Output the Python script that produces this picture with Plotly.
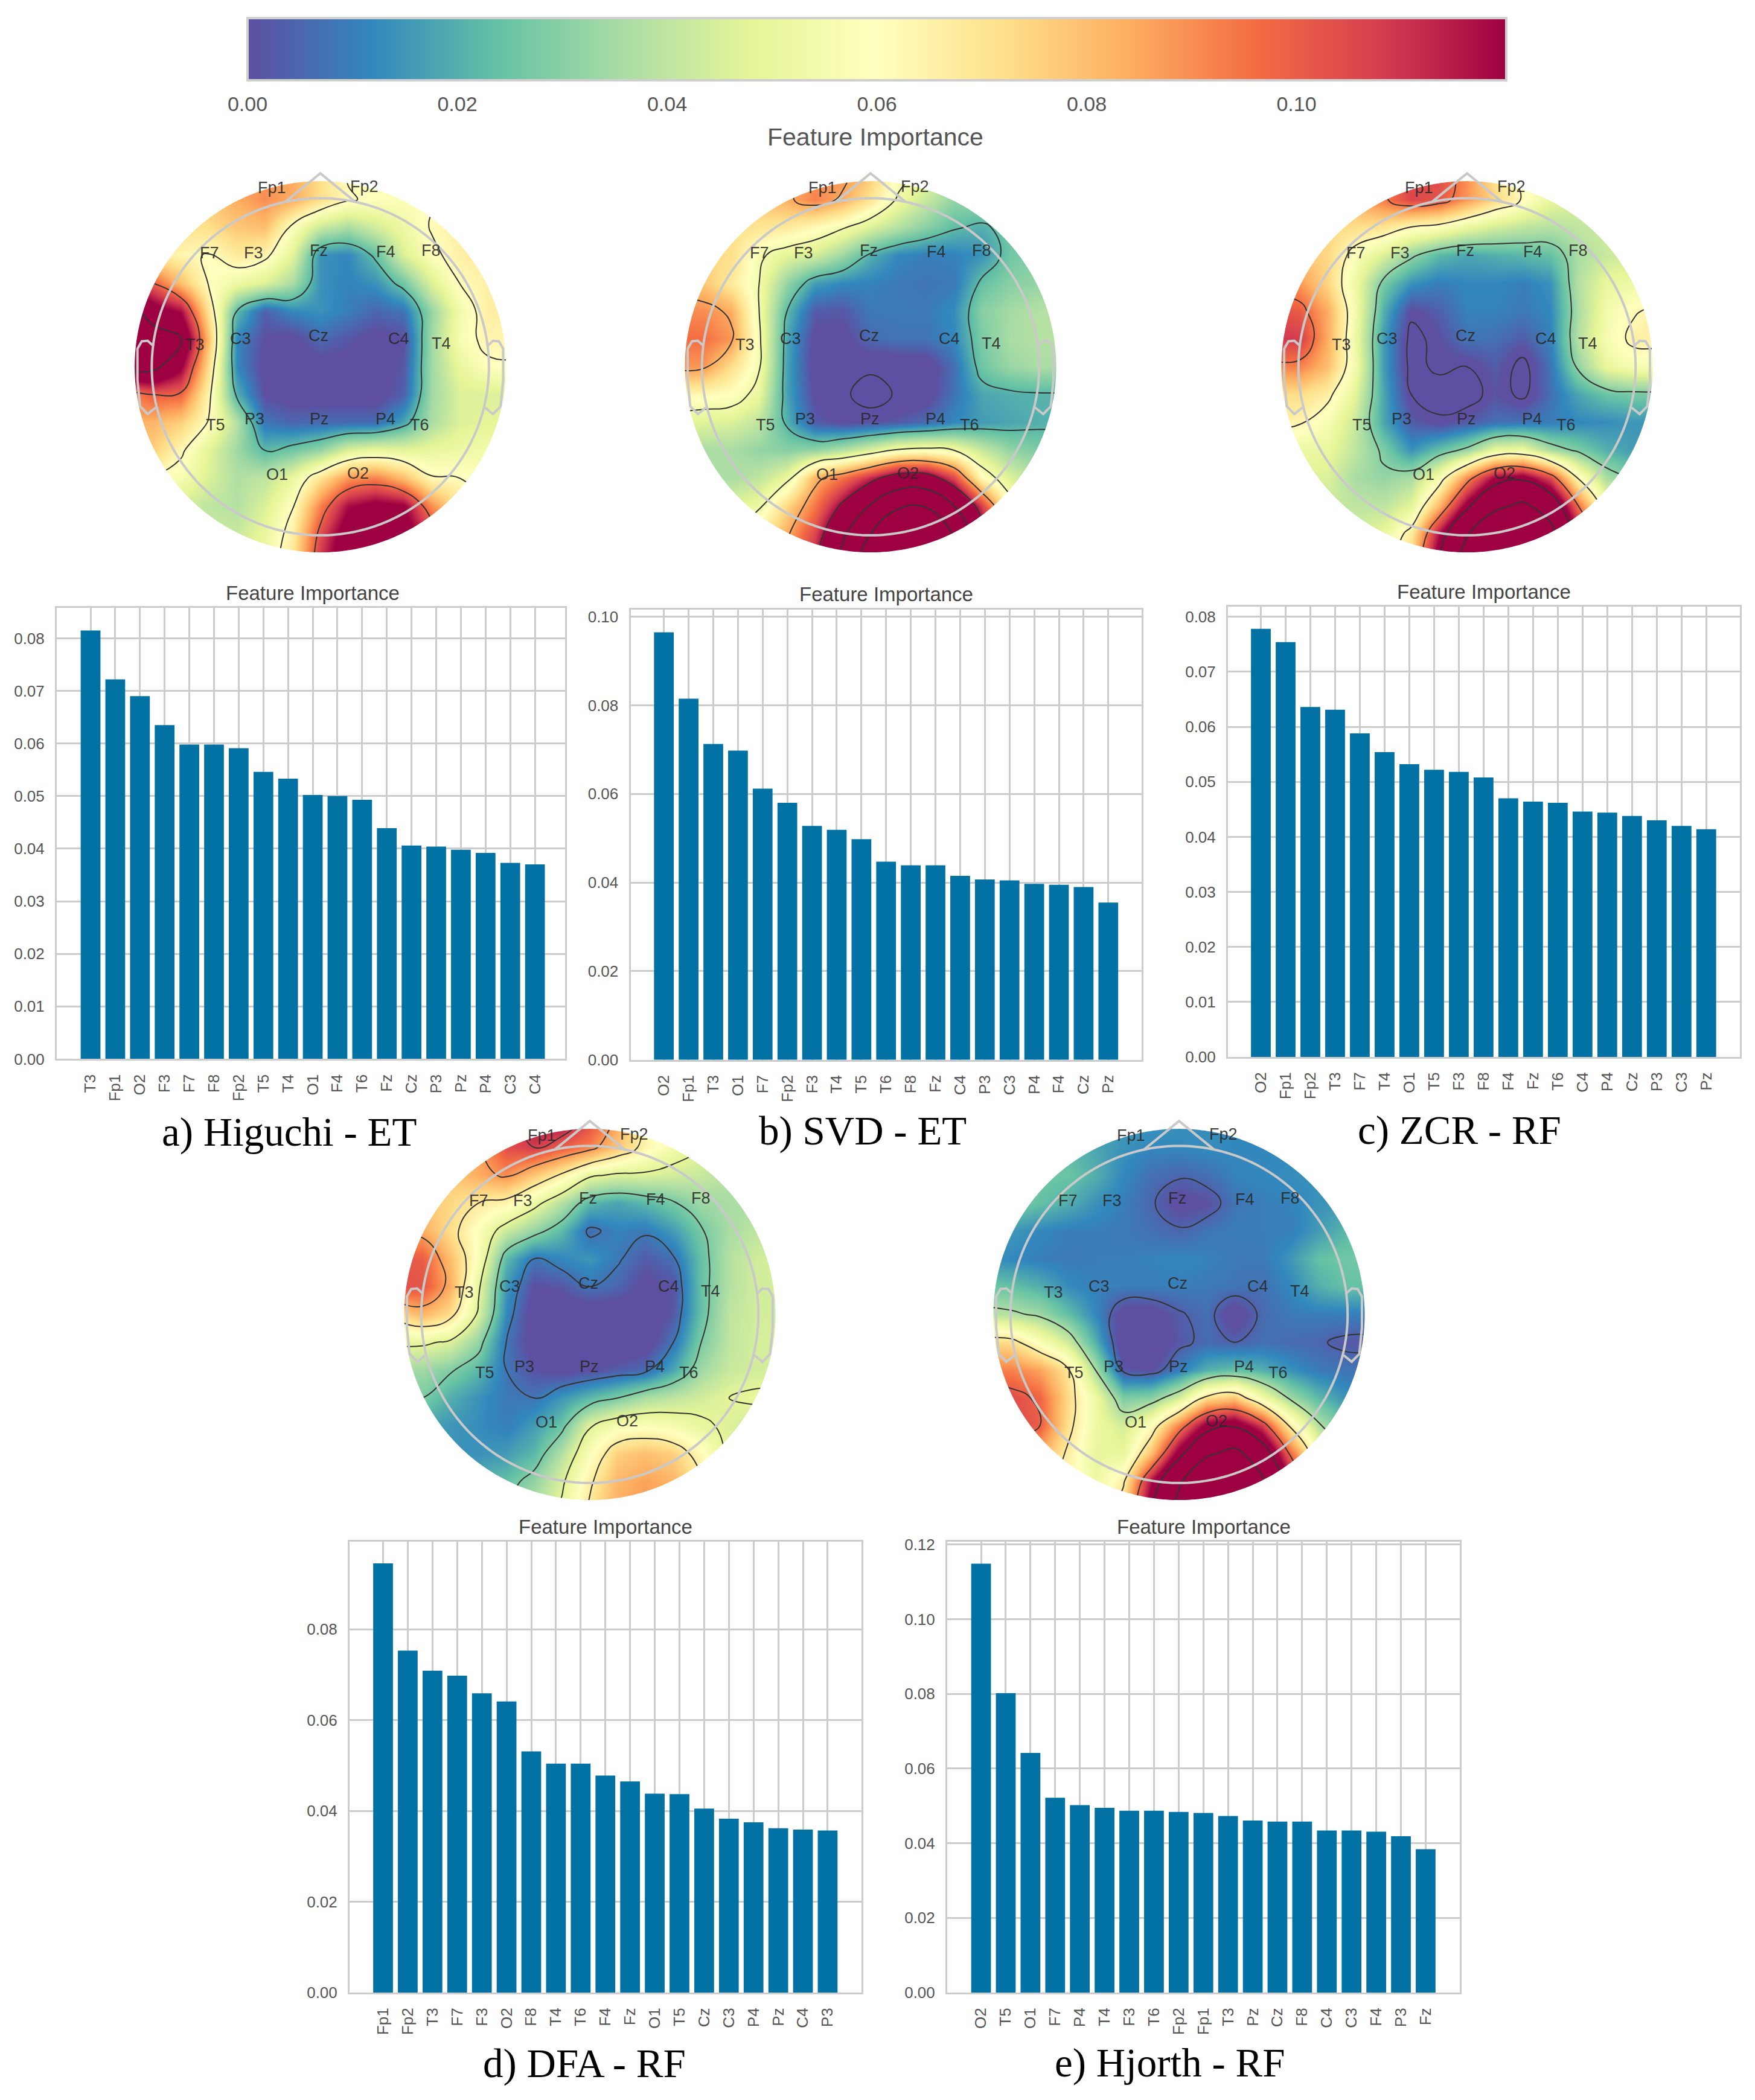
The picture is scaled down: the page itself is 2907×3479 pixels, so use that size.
import numpy as np
import plotly.graph_objects as go

W, H = 2907, 3479

# ---------- bar data ----------
a_labels = ["T3","Fp1","O2","F3","F7","F8","Fp2","T5","T4","O1","F4","T6","Fz","Cz","P3","Pz","P4","C3","C4"]
a_values = [.0815,.0722,.0690,.0635,.0598,.0598,.0591,.0546,.0533,.0502,.0500,.0493,.0439,.0406,.0404,.0398,.0392,.0373,.0370]
b_labels = ["O2","Fp1","T3","O1","F7","Fp2","F3","T4","T5","T6","F8","Fz","C4","P3","C3","P4","F4","Cz","Pz"]
b_values = [.0965,.0815,.0713,.0698,.0612,.0580,.0528,.0519,.0498,.0447,.0439,.0439,.0415,.0407,.0405,.0397,.0395,.0390,.0355]
c_labels = ["O2","Fp1","Fp2","T3","F7","T4","O1","T5","F3","F8","F4","Fz","T6","C4","P4","Cz","P3","C3","Pz"]
c_values = [.0778,.0754,.0636,.0631,.0588,.0554,.0532,.0522,.0518,.0508,.0470,.0464,.0462,.0446,.0444,.0438,.0430,.0420,.0414]
d_labels = ["Fp1","Fp2","T3","F7","F3","O2","F8","T4","T6","F4","Fz","O1","T5","Cz","C3","P4","Pz","C4","P3"]
d_values = [.0945,.0753,.0709,.0698,.0659,.0641,.0531,.0504,.0504,.0478,.0465,.0438,.0437,.0405,.0383,.0375,.0362,.0359,.0357]
e_labels = ["O2","T5","O1","F7","P4","T4","F3","T6","Fp2","Fp1","T3","Pz","Cz","F8","C4","C3","F4","P3","Fz"]
e_values = [.1149,.0802,.0642,.0522,.0502,.0495,.0487,.0487,.0484,.0481,.0473,.0461,.0458,.0458,.0434,.0434,.0431,.0419,.0384]

# ---------- topographic fields (x 0.001) ----------
grid_x = [-1.05,-.9,-.75,-.6,-.45,-.3,-.15,0,.15,.3,.45,.6,.75,.9,1.05]
grid_y = [1.05,.9,.75,.6,.45,.3,.15,0,-.15,-.3,-.45,-.6,-.75,-.9,-1.05]

field_a = [
[70,70,72,78,85,88,85,72,60,58,58,58,60,62,62],
[70,72,74,78,84,90,84,72,62,59,58,60,62,64,64],
[68,70,70,72,78,80,58,42,36,44,52,62,66,66,66],
[70,68,64,60,68,64,48,14,12,24,46,58,66,68,68],
[110,100,80,60,52,46,36,14,11,14,26,46,61,66,66],
[150,128,118,70,22,4,12,14,10,5,8,32,54,66,68],
[150,150,140,80,12,0,-2,6,2,-2,0,34,56,64,64],
[150,145,122,72,12,-2,-3,-3,-3,-3,2,34,50,59,60],
[90,100,98,64,20,0,-3,-3,-3,-3,4,34,46,46,46],
[84,82,76,60,38,8,5,6,6,6,18,36,46,48,48],
[80,76,63,48,34,22,26,32,46,50,48,50,52,54,54],
[62,60,56,46,37,40,50,70,88,92,80,62,61,56,56],
[50,48,44,40,38,46,60,92,118,125,122,90,70,60,60],
[48,46,44,42,42,50,66,104,130,135,128,110,80,60,60],
[46,46,44,44,44,52,70,110,135,140,132,110,80,60,60],
]
field_b = [
[70,72,74,78,82,88,90,78,60,50,42,38,35,34,34],
[72,74,74,78,84,92,84,70,52,42,32,32,30,30,30],
[72,72,72,70,68,62,55,46,38,30,23,20,26,28,28],
[74,74,72,56,48,44,34,20,12,10,11,14,26,30,30],
[80,78,68,54,32,16,12,11,9,8,9,24,30,32,32],
[92,90,84,54,22,3,2,9,9,9,13,30,35,38,38],
[96,96,88,56,18,-2,-2,6,8,8,12,28,36,38,38],
[88,88,72,55,17,-3,-5,-6,-5,-4,7,26,33,36,36],
[64,62,60,50,17,-1,-6,-20,-7,-3,8,18,20,21,21],
[48,47,46,40,20,3,-1,1,3,6,12,16,18,20,20],
[38,36,36,32,30,32,38,46,56,58,54,42,32,28,28],
[36,36,36,40,50,82,95,112,130,130,105,62,46,38,38],
[46,46,46,52,74,94,122,152,178,180,150,108,60,46,46],
[50,50,52,66,84,106,145,182,215,215,180,130,90,56,56],
[52,54,56,70,90,115,160,200,240,240,200,140,95,60,60],
]
field_c = [
[72,74,78,84,92,105,105,90,70,56,52,48,46,44,44],
[72,74,78,84,94,106,102,88,74,62,50,46,44,42,42],
[72,74,74,72,70,62,58,50,44,40,38,40,44,44,44],
[80,78,74,58,46,32,22,18,20,22,24,36,42,44,44],
[90,88,74,52,27,14,10,12,12,10,14,38,50,52,52],
[105,100,84,54,20,-1,4,11,11,9,12,36,54,62,66],
[110,108,84,52,16,-6,0,8,7,3,11,38,56,66,66],
[92,92,80,54,16,-6,-1,-3,3,-6,8,32,50,56,56],
[72,72,66,48,18,-3,-8,-8,1,-5,7,18,25,27,27],
[66,64,56,42,18,3,-1,3,7,8,10,12,13,15,15],
[54,52,50,40,28,14,24,33,50,52,36,28,20,16,16],
[46,46,46,36,32,36,56,90,120,126,105,62,36,28,28],
[44,44,42,40,40,48,82,125,155,168,148,96,55,38,38],
[44,44,44,44,50,68,118,160,192,205,172,120,70,44,44],
[44,46,46,46,54,76,130,175,210,220,190,130,80,50,50],
]
field_d = [
[70,72,76,84,100,118,120,105,85,64,55,50,46,44,44],
[72,74,78,86,104,108,100,92,78,64,54,48,44,42,42],
[74,76,78,84,90,78,66,50,46,46,44,42,38,36,36],
[78,78,74,68,64,52,38,22,18,22,27,34,36,36,36],
[86,84,72,58,42,32,22,6,11,9,16,27,36,40,40],
[102,100,80,58,22,8,12,15,9,3,7,24,38,44,44],
[104,102,84,50,15,0,2,8,5,-2,1,24,38,44,44],
[72,82,72,46,12,-4,-5,-5,-5,-4,2,24,40,44,44],
[50,50,46,32,8,-3,-5,-5,-5,-4,8,28,40,45,45],
[36,34,29,22,8,1,-2,0,3,6,18,34,42,44,44],
[30,28,20,14,9,8,15,22,28,36,40,44,48,50,50],
[20,18,15,13,10,16,25,47,56,58,55,50,46,42,42],
[16,16,14,14,16,22,38,58,76,80,76,62,46,40,40],
[18,18,18,20,24,32,46,66,82,86,82,70,50,40,40],
[20,20,20,24,28,38,50,70,84,88,84,72,52,42,42],
]
field_e = [
[25,22,20,20,18,16,14,14,13,12,12,12,12,12,12],
[26,26,24,22,18,14,12,12,13,12,12,12,12,12,12],
[28,28,26,25,20,12,7,5,7,11,12,13,14,14,14],
[28,28,24,20,14,10,5,-2,0,8,10,11,14,16,16],
[16,15,12,10,10,9,7,5,8,10,10,10,16,22,22],
[14,12,10,9,10,10,11,12,11,9,9,15,24,26,26],
[26,24,20,13,10,10,10,10,9,8,7,12,20,24,24],
[40,38,34,24,12,-3,-3,3,7,-4,6,9,10,10,10],
[74,72,58,44,20,-6,-6,2,6,4,7,6,5,2,2],
[94,92,86,70,36,2,0,10,20,24,20,14,9,8,8],
[108,104,98,74,52,28,30,44,72,78,54,34,22,14,14],
[108,106,100,72,52,44,60,92,124,130,108,66,38,24,24],
[90,88,84,66,50,50,80,126,160,172,146,98,56,34,34],
[80,78,74,64,52,66,118,160,195,205,168,120,70,40,40],
[78,76,72,64,56,76,130,175,210,220,180,130,80,46,46],
]

channel_names = ["Fp1","Fp2","F7","F3","Fz","F4","F8","T3","C3","Cz","C4","T4","T5","P3","Pz","P4","T6","O1","O2"]
channel_x = [-.26,.238,-.597,-.361,-.009,.354,.598,-.676,-.43,-.009,.424,.652,-.565,-.354,-.004,.351,.533,-.234,.202]
channel_y = [.965,.972,.612,.612,.626,.619,.626,.118,.151,.168,.151,.126,-.312,-.281,-.281,-.281,-.312,-.58,-.575]

spectral_r = ["#5e4fa2","#3288bd","#66c2a5","#abdda4","#e6f598","#ffffbf","#fee08b","#fdae61","#f46d43","#d53e4f","#9e0142"]
colorscale = [[i/10, c] for i, c in enumerate(spectral_r)]

BAR = "#0272a4"
GRID = "#cccccc"
HEAD = "#c9c9c9"
R_PX = 307.5
EXT = 1.14

def px(x): return x / W
def py(y): return 1 - y / H

fig = go.Figure()
layout = {}
annotations, shapes = [], []

def note(x, y, text, size, color, family="Liberation Sans"):
    annotations.append(dict(x=px(x), y=py(y), xref="paper", yref="paper", text=text, showarrow=False,
                            xanchor="center", yanchor="middle", font=dict(size=size, color=color, family=family)))

# bar panels: labels, values, box(l,r,t,b), xrange, ytop, dtick, title centre, caption
panels = [
 (a_labels,a_values,(94,936,1007,1754.4),(-1.37,19.22),.0858,.01,(518,982),"a) Higuchi - ET",(479,1875)),
 (b_labels,b_values,(1044.5,1891,1010,1755.7),(-1.35,19.35),.1016,.02,(1468,985),"b) SVD - ET",(1429,1873)),
 (c_labels,c_values,(2034,2881.6,1004.5,1751),(-1.33,19.35),.0819,.01,(2458,980),"c) ZCR - RF",(2417,1872)),
 (d_labels,d_values,(579,1427,2554,3301),(-1.357,19.37),.0993,.02,(1003,2529),"d) DFA - RF",(968,3418)),
 (e_labels,e_values,(1569,2417.5,2554,3301),(-1.37,19.37),.1208,.02,(1993.6,2529),"e) Hjorth - RF",(1938,3417)),
]
ax = 1
for labels, values, (l, r, t, b), xr, ytop, dt, tc, cap, cc in panels:
    fig.add_trace(go.Bar(x=labels, y=values, width=.8, marker=dict(color=BAR, line=dict(width=0)),
                         xaxis=f"x{ax}", yaxis=f"y{ax}", showlegend=False))
    layout[f"xaxis{ax}"] = dict(domain=[px(l), px(r)], anchor=f"y{ax}", type="category", range=list(xr),
        tickangle=-90, ticks="outside", ticklen=12, tickcolor="rgba(0,0,0,0)", tickfont=dict(size=26, color="#555555", family="Liberation Sans"),
        showgrid=True, gridcolor=GRID, gridwidth=3, showline=True, linecolor=GRID, linewidth=3, mirror=True, zeroline=False,
        categoryorder="array", categoryarray=labels, tickmode="array", tickvals=labels, ticktext=labels)
    layout[f"yaxis{ax}"] = dict(domain=[py(b), py(t)], anchor=f"x{ax}", range=[0, ytop], dtick=dt, tickformat=".2f",
        ticks="outside", ticklen=12, tickcolor="rgba(0,0,0,0)", tickfont=dict(size=26, color="#555555", family="Liberation Sans"),
        showgrid=True, gridcolor=GRID, gridwidth=3, showline=True, linecolor=GRID, linewidth=3, mirror=True, zeroline=False)
    note(tc[0], tc[1], "Feature Importance", 33, "#444444")
    note(cc[0], cc[1], cap, 67, "#000000", "Liberation Serif")
    ax += 1

note(1450, 227, "Feature Importance", 41, "#555555")

# topographic panels: field, centre, contour start/end/size
maps = [
 (field_a,(530.6,607.6),(22,139,39)),
 (field_b,(1442,607.6),(-10,182,32)),
 (field_c,(2430,607.6),(-3,162,33)),
 (field_d,(977,2177.6),(8,108,20)),
 (field_e,(1953,2177.6),(4,164,32)),
]
theta = np.linspace(0, 2*np.pi, 361)
def poly(xs, ys):
    return "M" + " L".join(f"{x:.4f},{y:.4f}" for x, y in zip(xs, ys))

HEAD_R = .908
nose_x = [-.19, 0, .19]
nose_y = [.887, 1.042, .887]
ear_x = [.898,.930,.962,.985,.985,.971,.930,.887]
ear_y = [.111,.14,.137,.097,-.072,-.213,-.255,-.22]

for field, (cx, cy), (c0, c1, cs) in maps:
    z = np.array(field, dtype=float) / 1000
    hw = R_PX * EXT
    xa, ya = f"x{ax}", f"y{ax}"
    fig.add_trace(go.Heatmap(x=grid_x, y=grid_y, z=z, coloraxis="coloraxis", zsmooth="best",
                             xaxis=xa, yaxis=ya, hoverinfo="skip"))
    fig.add_trace(go.Contour(x=grid_x, y=grid_y, z=z, showscale=False, autocontour=False, xaxis=xa, yaxis=ya,
                             contours=dict(coloring="none", start=c0/1000, end=c1/1000, size=cs/1000),
                             line=dict(color="#333333", width=2, smoothing=1.3), hoverinfo="skip"))
    layout[f"xaxis{ax}"] = dict(domain=[px(cx-hw), px(cx+hw)], anchor=ya, range=[-EXT, EXT], visible=False)
    layout[f"yaxis{ax}"] = dict(domain=[py(cy+hw), py(cy-hw)], anchor=xa, range=[-EXT, EXT], visible=False)
    # white mask outside the scalp disc
    ring = poly(np.cos(theta), np.sin(theta)) + " Z"
    B = 1.3
    box = f"M{-B},{-B} L{B},{-B} L{B},{B} L{-B},{B} Z"
    shapes.append(dict(type="path", path=box + " " + ring, xref=xa, yref=ya, fillcolor="white", fillrule="evenodd",
                       line=dict(width=0), layer="above"))
    hl = dict(color=HEAD, width=4)
    shapes.append(dict(type="path", path=poly(HEAD_R*np.cos(theta), HEAD_R*np.sin(theta)), xref=xa, yref=ya, line=hl, layer="above"))
    shapes.append(dict(type="path", path=poly(nose_x, nose_y), xref=xa, yref=ya, line=hl, layer="above"))
    shapes.append(dict(type="path", path=poly(ear_x, ear_y), xref=xa, yref=ya, line=hl, layer="above"))
    shapes.append(dict(type="path", path=poly([-v for v in ear_x], ear_y), xref=xa, yref=ya, line=hl, layer="above"))
    for name, ex, ey in zip(channel_names, channel_x, channel_y):
        annotations.append(dict(x=ex, y=ey, xref=xa, yref=ya, text=name, showarrow=False, xanchor="center", yanchor="middle",
                                font=dict(size=27, color="rgba(40,40,40,0.9)", family="Liberation Sans")))
    ax += 1

fig.update_layout(
    width=W, height=H, paper_bgcolor="white", plot_bgcolor="white", showlegend=False,
    margin=dict(l=0, r=0, t=0, b=0, pad=0, autoexpand=False), bargap=.2,
    annotations=annotations, shapes=shapes,
    coloraxis=dict(cmin=0, cmax=.12, colorscale=colorscale,
        colorbar=dict(orientation="h", lenmode="pixels", len=2085, thicknessmode="pixels", thickness=103,
                      x=px(1452.5), xanchor="center", y=py(30), yanchor="top", xpad=0, ypad=0,
                      outlinecolor="#cfcfcf", outlinewidth=4, tickmode="array", tickvals=[0,.02,.04,.06,.08,.10],
                      ticktext=["0.00","0.02","0.04","0.06","0.08","0.10"], ticks="outside", ticklen=9,
                      tickcolor="rgba(0,0,0,0)", tickfont=dict(size=34, color="#555555", family="Liberation Sans"))),
    **layout)

fig.write_html("out.html", config={"displayModeBar": False},
               post_script="document.body.style.margin='0';document.body.style.overflow='hidden';")
